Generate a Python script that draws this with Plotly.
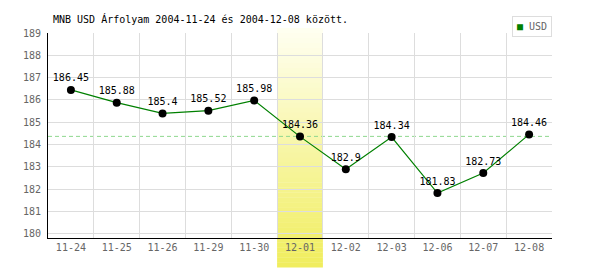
import plotly.graph_objects as go

# ---- data ----
dates = ["11-24", "11-25", "11-26", "11-29", "11-30", "12-01",
         "12-02", "12-03", "12-06", "12-07", "12-08"]
usd = [186.45, 185.88, 185.4, 185.52, 185.98, 184.36,
       182.9, 184.34, 181.83, 182.73, 184.46]
labels = ["186.45", "185.88", "185.4", "185.52", "185.98", "184.36",
          "182.9", "184.34", "181.83", "182.73", "184.46"]
highlight_date = "12-01"
ref_level = 184.37
title_text = "MNB USD Árfolyam 2004-11-24 és 2004-12-08 között."
series_name = "USD"
y_ticks = list(range(180, 190))

FONT = "DejaVu Sans Mono"

fig = go.Figure()

# gradient highlight band for the selected day
hi = dates.index(highlight_date)
top_c = (255, 255, 242)
bot_c = (240, 237, 92)
y_top, y_bot = 1.024, -0.142
n = 48
for i in range(n):
    t0 = i / n
    t1 = (i + 1) / n
    tm = (i + 0.5) / n
    c = tuple(round(top_c[k] + (bot_c[k] - top_c[k]) * tm) for k in range(3))
    fig.add_shape(type="rect", xref="x", yref="paper",
                  x0=hi - 0.5, x1=hi + 0.5,
                  y0=y_top + (y_bot - y_top) * t1 - 0.002,
                  y1=y_top + (y_bot - y_top) * t0,
                  fillcolor="rgb(%d,%d,%d)" % c, line_width=0, layer="between")

# reference dashed level
fig.add_shape(type="line", xref="paper", yref="y", x0=0, x1=1,
              y0=ref_level, y1=ref_level,
              line=dict(color="#8fd88f", width=1, dash="4px,3px"), layer="between")

fig.add_trace(go.Scatter(
    x=dates, y=usd, mode="lines+markers+text",
    text=labels, textposition="top center",
    textfont=dict(family=FONT, size=10, color="#000"),
    line=dict(color="#008000", width=1.2),
    marker=dict(color="#000", size=8),
    showlegend=False, cliponaxis=False, name=series_name,
))

# compact legend box
fig.add_annotation(
    xref="paper", yref="paper", x=1, y=1.083, xanchor="right", yanchor="top",
    text='<span style="color:#008000">■</span> ' + series_name,
    showarrow=False, align="left",
    font=dict(family=FONT, size=10, color="#666"),
    bgcolor="white", bordercolor="#dddddd", borderwidth=1, borderpad=4,
)

fig.update_layout(
    width=600, height=270,
    margin=dict(l=48, r=48, t=33, b=32),
    paper_bgcolor="white", plot_bgcolor="white",
    font=dict(family=FONT, size=10, color="#666"),
    showlegend=False,
    title=dict(text=title_text, x=53 / 600, xanchor="left", xref="container",
               y=1 - 19 / 270, yanchor="middle", yref="container",
               font=dict(family=FONT, size=10, color="#000")),
    xaxis=dict(type="category", range=[-0.5, len(dates) - 0.5],
               tickson="boundaries", showgrid=True, gridcolor="#dddddd",
               showline=True, linecolor="#000", linewidth=1,
               ticks="", fixedrange=True),
    yaxis=dict(range=[179.82, 189], tickvals=y_ticks,
               showgrid=True, gridcolor="#dddddd",
               showline=True, linecolor="#000", linewidth=1,
               ticks="", ticklabelstandoff=4, zeroline=False),
)

fig.write_html("out.html")
